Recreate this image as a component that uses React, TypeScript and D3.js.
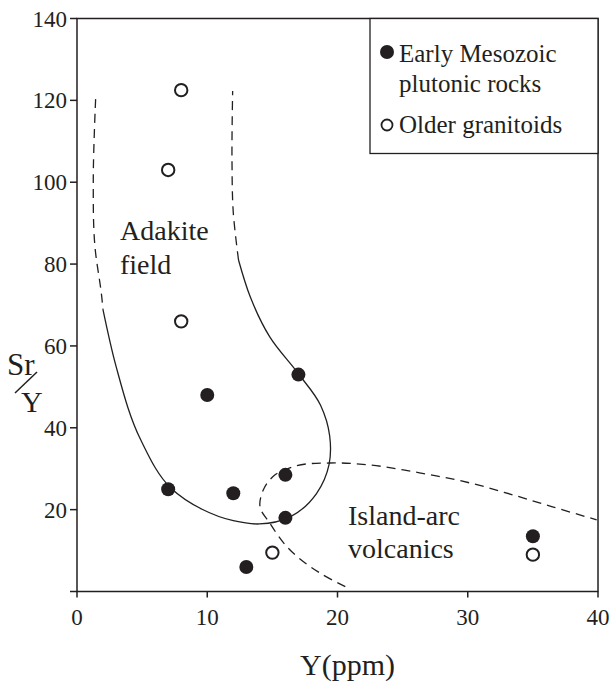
import * as d3 from "d3";

type Pt = [number, number];

// Y (ppm) vs Sr/Y values
const earlyMesozoic: Pt[] = [
  [7, 25], [10, 48], [17, 53], [12, 24], [16, 28.5], [16, 18], [13, 6], [35, 13.5],
];
const olderGranitoids: Pt[] = [
  [8, 122.5], [7, 103], [8, 66], [15, 9.5], [35, 9],
];

// adakite field outline: dashed upper-left limb, solid loop, dashed upper-right limb
const adakiteLeftDashed: Pt[] = [
  [1.43, 120.3], [1.25, 100.6], [1.38, 84.2], [1.9, 72], [2.0, 68.8],
];
const adakiteSolid: Pt[] = [
  [2.0, 68.8], [3.0, 55], [4.9, 37], [7.2, 25.3], [9.6, 20.1], [12, 17.3],
  [14, 16.5], [16.4, 18.3], [18.4, 24], [19.35, 31], [19.4, 38], [18.7, 45.5],
  [17.0, 53.2], [14.8, 62.2], [13.3, 72], [12.4, 81],
];
const adakiteRightDashed: Pt[] = [
  [12.4, 81], [12.0, 92.5], [11.9, 105], [11.95, 122.3],
];
// island-arc volcanics field (dashed)
const islandArc: Pt[] = [
  [20.6, 1.2], [18.66, 4.5], [16.1, 11], [14.8, 16.7], [14.05, 20.7],
  [14.3, 24.8], [15.05, 28.1], [16.6, 30.5], [19.4, 31.4], [22.5, 30.9], [26.3, 29],
  [30.2, 26.5], [34, 23.1], [36.5, 20.7], [39.9, 17.5],
];

const xTicks = [0, 10, 20, 30, 40];
const yTicks = [0, 20, 40, 60, 80, 100, 120, 140];
const legendItems = [
  { lines: ["Early Mesozoic", "plutonic rocks"], filled: true },
  { lines: ["Older granitoids"], filled: false },
];

const W = 612, H = 684;
const FONT = "Liberation Serif, DejaVu Serif, Times New Roman, serif";

export default function App() {
  const left = 77, right = 598, top = 18.5, bottom = 591.5;
  const x = d3.scaleLinear().domain([0, 40]).range([left, right]);
  const y = d3.scaleLinear().domain([0, 140]).range([bottom, top]);
  const line = d3.line<Pt>().x((d) => x(d[0])).y((d) => y(d[1])).curve(d3.curveCatmullRom.alpha(1));

  const dash = "9 6";
  const lg = { x: 370, y: top, w: right - 370, h: 135 };
  const lgBase = [62, 133]; // first baseline of each legend entry
  const ink = "#231f20";

  return (
    <svg width={W} height={H} style={{ display: "block", position: "absolute", left: 0, top: 0, background: "#fff", fontFamily: FONT }}>
      <style>{"body{margin:0}"}</style>
      <g fill={ink}>
        {/* frame */}
        <rect x={left} y={top} width={right - left} height={bottom - top} fill="none" stroke={ink} strokeWidth={1.5} />
        {/* y ticks + labels */}
        {yTicks.map((t) => (
          <g key={`y${t}`}>
            <line x1={left - 7} x2={left} y1={y(t)} y2={y(t)} stroke={ink} strokeWidth={1.5} />
            {t > 0 && (
              <text x={left - 10} y={y(t) + 8} textAnchor="end" fontSize={23}>{t}</text>
            )}
          </g>
        ))}
        {/* x ticks + labels */}
        {xTicks.map((t) => (
          <g key={`x${t}`}>
            <line x1={x(t)} x2={x(t)} y1={bottom} y2={bottom + 6} stroke={ink} strokeWidth={1.5} />
            <text x={x(t)} y={bottom + 33} textAnchor="middle" fontSize={23}>{t}</text>
          </g>
        ))}

        {/* axis titles */}
        <text x={x(20) + 10} y={675} textAnchor="middle" fontSize={30}>Y(ppm)</text>
        <text x={7} y={375} fontSize={31}>Sr</text>
        <line x1={15} y1={393} x2={37} y2={372} stroke={ink} strokeWidth={1.5} />
        <text x={21} y={412} fontSize={30}>Y</text>

        {/* field outlines */}
        <path d={line(adakiteLeftDashed) ?? ""} fill="none" stroke={ink} strokeWidth={1.3} strokeDasharray={dash} />
        <path d={line(adakiteSolid) ?? ""} fill="none" stroke={ink} strokeWidth={1.3} />
        <path d={line(adakiteRightDashed) ?? ""} fill="none" stroke={ink} strokeWidth={1.3} strokeDasharray={dash} />
        <path d={line(islandArc) ?? ""} fill="none" stroke={ink} strokeWidth={1.3} strokeDasharray={dash} />

        {/* field labels */}
        <text x={120} y={240} fontSize={28}>Adakite</text>
        <text x={120} y={274} fontSize={28}>field</text>
        <text x={348} y={525} fontSize={28}>Island-arc</text>
        <text x={348} y={558} fontSize={28}>volcanics</text>

        {/* points */}
        {earlyMesozoic.map((d, i) => (
          <circle key={`e${i}`} cx={x(d[0])} cy={y(d[1])} r={7} fill={ink} />
        ))}
        {olderGranitoids.map((d, i) => (
          <circle key={`o${i}`} cx={x(d[0])} cy={y(d[1])} r={6.2} fill="#fff" stroke={ink} strokeWidth={2} />
        ))}

        {/* legend */}
        <rect x={lg.x} y={lg.y} width={lg.w} height={lg.h} fill="#fff" stroke={ink} strokeWidth={1.3} />
        {legendItems.map((it, i) => (
          <g key={it.lines[0]}>
            {it.filled
              ? <circle cx={387} cy={lgBase[i] - 10} r={7} fill={ink} />
              : <circle cx={387} cy={lgBase[i] - 8} r={5.5} fill="#fff" stroke={ink} strokeWidth={1.8} />}
            {it.lines.map((s, j) => (
              <text key={s} x={399} y={lgBase[i] + j * 30} fontSize={25}>{s}</text>
            ))}
          </g>
        ))}
      </g>
    </svg>
  );
}
